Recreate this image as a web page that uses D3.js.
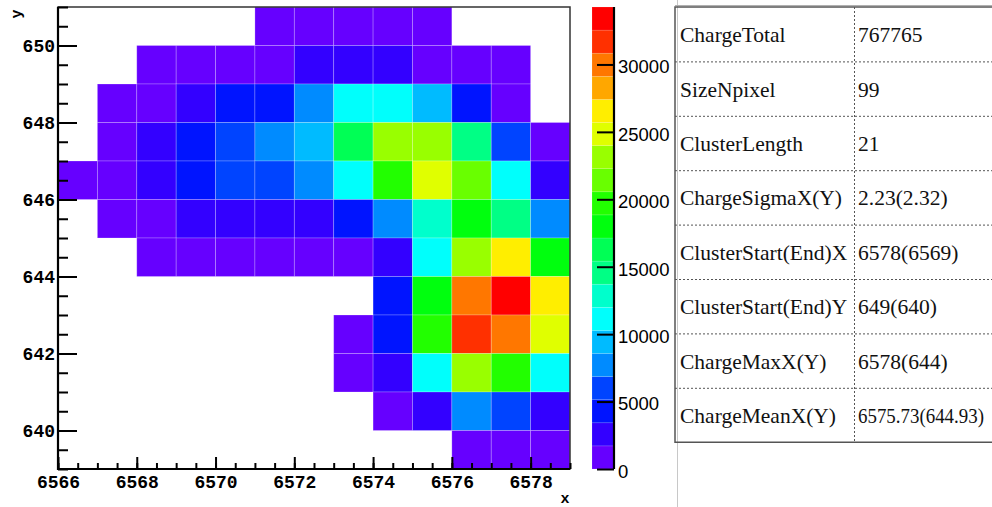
<!DOCTYPE html>
<html>
<head>
<meta charset="utf-8">
<script src="https://cdn.jsdelivr.net/npm/d3@7"></script>
<style>
  html, body { margin: 0; padding: 0; background: #fff; }
  svg { display: block; }
</style>
</head>
<body>
<svg id="chart" width="992" height="507"></svg>
<script>
// Pixel bins (lower edges) of the cluster map
const xBins = [6566, 6567, 6568, 6569, 6570, 6571, 6572, 6573, 6574, 6575, 6576, 6577, 6578];
const yBins = [650, 649, 648, 647, 646, 645, 644, 643, 642, 641, 640, 639];

// Collected charge per pixel; one row per yBins entry, one column per xBins entry (null = no hit)
const charge = [
  [null, null, null, null, null, 612, 845, 930, 1020, 705, null, null, null],
  [null, null, 640, 980, 1240, 1510, 2130, 2480, 2210, 1450, 1180, 560, null],
  [null, 720, 1390, 3010, 3890, 4160, 7330, 10610, 10870, 9240, 3720, 1320, null],
  [null, 1150, 2620, 4560, 5430, 7140, 8810, 15620, 22420, 22350, 13880, 5360, 1260],
  [430, 1310, 2870, 4010, 5520, 5760, 7420, 10560, 19020, 24150, 20740, 10490, 2540],
  [null, 890, 1560, 2350, 2760, 2480, 2690, 3810, 7020, 12180, 17350, 13950, 7060],
  [null, null, 380, 760, 1090, 1230, 1380, 1520, 3140, 10470, 22560, 25920, 17290],
  [null, null, null, null, null, null, null, null, 3823, 17360, 29420, 34260, 25890],
  [null, null, null, null, null, null, null, 1480, 4810, 18990, 31050, 29380, 24110],
  [null, null, null, null, null, null, null, 1210, 2940, 10450, 22380, 18970, 10390],
  [null, null, null, null, null, null, null, null, 1340, 2460, 7010, 5290, 2710],
  [null, null, null, null, null, null, null, null, null, null, 520, 870, 640]
];

// Axis tick labels
const xTickLabels = [6566, 6568, 6570, 6572, 6574, 6576, 6578];
const yTickLabels = [640, 642, 644, 646, 648, 650];
const zTickLabels = [0, 5000, 10000, 15000, 20000, 25000, 30000];

// 20-level rainbow palette, low to high
const palette = [
  "#6600ff", "#3300ff", "#0014ff", "#0044ff", "#008bff",
  "#00bbff", "#00fffc", "#00ffcc", "#00ff85", "#00ff55",
  "#00ff0e", "#22ff00", "#69ff00", "#99ff00", "#e0ff00",
  "#ffee00", "#ffa700", "#ff7700", "#ff3000", "#ff0000"
];

// Cluster summary table
const statNames = ["ChargeTotal", "SizeNpixel", "ClusterLength", "ChargeSigmaX(Y)",
  "ClusterStart(End)X", "ClusterStart(End)Y", "ChargeMaxX(Y)", "ChargeMeanX(Y)"];
const statValues = ["767765", "99", "21", "2.23(2.32)",
  "6578(6569)", "649(640)", "6578(644)", "6575.73(644.93)"];

const svg = d3.select("#chart");

const plot = { left: 58, right: 570, top: 7, bottom: 469 };

const x = d3.scaleLinear().domain([6566, 6579]).range([plot.left, plot.right]);
const y = d3.scaleLinear().domain([639, 651]).range([plot.bottom, plot.top]);

const cells = [];
yBins.forEach((yb, r) => xBins.forEach((xb, c) => {
  const v = charge[r][c];
  if (v != null) cells.push({ x: xb, y: yb, v });
}));

const zMax = d3.max(cells, d => d.v);
const color = d3.scaleQuantize().domain([0, zMax]).range(palette);

// Cells
svg.append("g").selectAll("rect")
  .data(cells)
  .join("rect")
  .attr("x", d => x(d.x))
  .attr("y", d => y(d.y + 1))
  .attr("width", d => x(d.x + 1) - x(d.x))
  .attr("height", d => y(d.y) - y(d.y + 1))
  .attr("fill", d => color(d.v))
  .attr("stroke", "rgba(255,255,255,0.28)")
  .attr("stroke-width", 0.8);

// Frame
svg.append("rect")
  .attr("x", plot.left).attr("y", plot.top)
  .attr("width", plot.right - plot.left).attr("height", plot.bottom - plot.top)
  .attr("fill", "none").attr("stroke", "#333").attr("stroke-width", 1.5);

const tickFont = "'Liberation Mono', 'Courier New', monospace";

// X axis: minor ticks, then labelled major ticks
const xAxisG = svg.append("g").attr("transform", `translate(0,${plot.bottom})`);
xAxisG.append("g")
  .call(d3.axisBottom(x).tickValues(d3.range(6566, 6579.01, 0.5)).tickSize(-6).tickFormat(""))
  .call(g => g.select(".domain").remove());
xAxisG.append("g")
  .call(d3.axisBottom(x).tickValues(xTickLabels).tickSize(-12).tickPadding(6).tickFormat(d3.format("d")))
  .call(g => g.select(".domain").remove());
xAxisG.selectAll("line").attr("stroke", "#000").attr("stroke-width", 2);
xAxisG.selectAll("text")
  .attr("font-family", tickFont).attr("font-weight", "bold").attr("font-size", 18).attr("fill", "#000");

// Y axis
const yAxisG = svg.append("g").attr("transform", `translate(${plot.left},0)`);
yAxisG.append("g")
  .call(d3.axisLeft(y).tickValues(d3.range(639, 651.01, 0.5)).tickSize(-10).tickFormat(""))
  .call(g => g.select(".domain").remove());
yAxisG.append("g")
  .call(d3.axisLeft(y).tickValues(yTickLabels).tickSize(-19).tickPadding(3).tickFormat(d3.format("d")))
  .call(g => g.select(".domain").remove());
yAxisG.selectAll("line").attr("stroke", "#000").attr("stroke-width", 2);
yAxisG.selectAll("text")
  .attr("font-family", tickFont).attr("font-weight", "bold").attr("font-size", 18).attr("fill", "#000");

// Left and bottom axis lines
svg.append("path")
  .attr("d", `M${plot.left},${plot.top}V${plot.bottom}H${plot.right}`)
  .attr("fill", "none").attr("stroke", "#000").attr("stroke-width", 2.2);

// Axis titles
svg.append("text")
  .attr("x", 565).attr("y", 503)
  .attr("text-anchor", "middle")
  .attr("font-family", tickFont).attr("font-weight", "bold").attr("font-size", 15)
  .text("x");
svg.append("text")
  .attr("transform", "translate(21,14) rotate(-90)")
  .attr("text-anchor", "middle")
  .attr("font-family", tickFont).attr("font-weight", "bold").attr("font-size", 15)
  .text("y");

// Colour bar
const bar = { left: 592, right: 614 };
const z = d3.scaleLinear().domain([0, zMax]).range([plot.bottom, plot.top]);
const edges = [0, ...color.thresholds(), zMax];
svg.append("g").selectAll("rect")
  .data(palette)
  .join("rect")
  .attr("x", bar.left)
  .attr("y", (d, i) => z(edges[i + 1]))
  .attr("width", bar.right - bar.left)
  .attr("height", (d, i) => z(edges[i]) - z(edges[i + 1]))
  .attr("fill", d => d)
  .attr("stroke", "rgba(255,255,255,0.2)")
  .attr("stroke-width", 0.6);

const zAxisG = svg.append("g").attr("transform", `translate(${bar.right},0)`)
  .call(d3.axisRight(z).tickValues(zTickLabels).tickSize(-17).tickPadding(4).tickFormat(d3.format("d")));
zAxisG.select(".domain").attr("stroke", "#000").attr("stroke-width", 2.2)
  .attr("d", `M0,${plot.top}V${plot.bottom}`);
zAxisG.selectAll("line").attr("stroke", "#000").attr("stroke-width", 2);
zAxisG.selectAll("text")
  .attr("dy", "0.45em")
  .attr("font-family", "'Liberation Sans', Arial, sans-serif").attr("font-size", 18.5).attr("fill", "#000");

// Summary table
const table = { left: 675, top: 7, rowH: 54.4, colX: 854 };
const rowY = d3.scaleLinear().domain([0, statNames.length]).range([table.top, table.top + table.rowH * statNames.length]);

svg.append("line")
  .attr("x1", 677.5).attr("x2", 677.5).attr("y1", 0).attr("y2", 507)
  .attr("stroke", "#c8c8c8").attr("stroke-width", 1);
svg.append("line")
  .attr("x1", table.left).attr("x2", 992).attr("y1", 5.5).attr("y2", 5.5)
  .attr("stroke", "#b0b0b0").attr("stroke-width", 1);

const tg = svg.append("g");
tg.selectAll("line.sep")
  .data(d3.range(1, statNames.length))
  .join("line")
  .attr("class", "sep")
  .attr("x1", table.left).attr("x2", 992)
  .attr("y1", d => rowY(d) + 0.5).attr("y2", d => rowY(d) + 0.5)
  .attr("stroke", "#555").attr("stroke-width", 1).attr("stroke-dasharray", "2,2");
tg.append("line")
  .attr("x1", table.colX + 0.5).attr("x2", table.colX + 0.5)
  .attr("y1", rowY(0)).attr("y2", rowY(statNames.length))
  .attr("stroke", "#555").attr("stroke-width", 1).attr("stroke-dasharray", "2,2");
tg.append("path")
  .attr("d", `M992,${rowY(statNames.length)}H${table.left}V${rowY(0)}H992`)
  .attr("fill", "none").attr("stroke", "#555").attr("stroke-width", 1.5);

const serif = "'Liberation Serif', 'Times New Roman', serif";
tg.selectAll("text.name")
  .data(statNames)
  .join("text")
  .attr("class", "name")
  .attr("x", 680)
  .attr("y", (d, i) => (rowY(i) + rowY(i + 1)) / 2 + 8)
  .attr("font-family", serif).attr("font-size", 21.5).attr("fill", "#111")
  .text(d => d);
tg.selectAll("text.val")
  .data(statValues)
  .join("text")
  .attr("class", "val")
  .attr("x", 858)
  .attr("y", (d, i) => (rowY(i) + rowY(i + 1)) / 2 + 8)
  .attr("font-family", serif).attr("font-size", 21.5).attr("fill", "#111")
  .attr("textLength", (d, i) => i === statValues.length - 1 ? 126 : null)
  .attr("lengthAdjust", "spacingAndGlyphs")
  .text(d => d);
</script>
</body>
</html>
